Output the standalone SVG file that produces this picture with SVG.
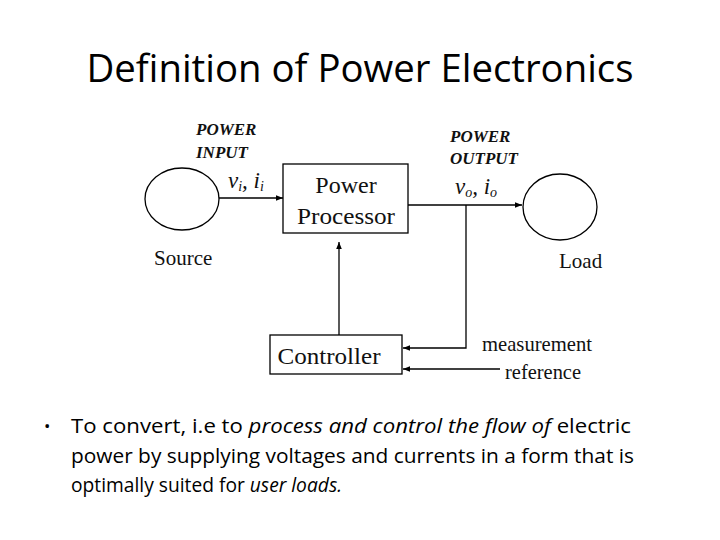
<svg xmlns="http://www.w3.org/2000/svg" width="720" height="540" viewBox="0 0 720 540">
<defs>
<marker id="ah" viewBox="0 0 10 10" refX="10" refY="5" markerWidth="7" markerHeight="7" markerUnits="userSpaceOnUse" orient="auto"><path d="M0,1 L10,5 L0,9 z" fill="#000"/></marker>
<style>
.ln{stroke:#000;stroke-width:1.3;fill:none}
.sh{stroke:#000;stroke-width:1.3;fill:#fff}
.tm{font-family:"Liberation Serif",serif;fill:#111}
.it{font-family:"Liberation Serif",serif;font-style:italic;fill:#111}
.bd{font-family:"Open Sans","Liberation Sans",sans-serif;fill:#000}
</style>
</defs>
<rect width="720" height="540" fill="#fff"/>
<text x="360" y="82" text-anchor="middle" class="bd" font-size="39" textLength="547" lengthAdjust="spacingAndGlyphs">Definition of Power Electronics</text>
<g id="connectors">
<line class="ln" x1="219" y1="198" x2="283" y2="198" marker-end="url(#ah)"/>
<line class="ln" x1="408" y1="205" x2="522" y2="205" marker-end="url(#ah)"/>
<polyline class="ln" points="466,205 466,348 403,348" marker-end="url(#ah)"/>
<line class="ln" x1="339" y1="335" x2="339" y2="242" marker-end="url(#ah)"/>
<line class="ln" x1="500" y1="369" x2="403" y2="369" marker-end="url(#ah)"/>
</g>
<g id="source">
<ellipse class="sh" cx="182" cy="199" rx="37" ry="31"/>
<text x="154" y="265" class="tm" font-size="21">Source</text>
<text x="196" y="135" class="it" font-size="17" font-weight="bold">POWER</text>
<text x="196" y="158" class="it" font-size="17" font-weight="bold">INPUT</text>
<text x="228" y="188" class="it" font-size="23">v<tspan font-size="14" dy="3">i</tspan><tspan dy="-3">, </tspan>i<tspan font-size="14" dy="3">i</tspan></text>
</g>
<g id="power-processor">
<rect class="sh" x="283" y="164" width="125" height="69"/>
<text x="346" y="193" text-anchor="middle" class="tm" font-size="24">Power</text>
<text x="346" y="224" text-anchor="middle" class="tm" font-size="24" textLength="98" lengthAdjust="spacingAndGlyphs">Processor</text>
</g>
<g id="load">
<ellipse class="sh" cx="560" cy="207" rx="37" ry="33"/>
<text x="559" y="268" class="tm" font-size="21">Load</text>
<text x="450" y="142" class="it" font-size="17" font-weight="bold">POWER</text>
<text x="450" y="164" class="it" font-size="17" font-weight="bold">OUTPUT</text>
<text x="455" y="194" class="it" font-size="23">v<tspan font-size="14" dy="3">o</tspan><tspan dy="-3">, </tspan>i<tspan font-size="14" dy="3">o</tspan></text>
</g>
<g id="controller">
<rect class="sh" x="270" y="335" width="132" height="39"/>
<text x="329" y="364" text-anchor="middle" class="tm" font-size="24" textLength="103" lengthAdjust="spacingAndGlyphs">Controller</text>
</g>
<g id="labels">
<text x="482" y="351" class="tm" font-size="21" textLength="110" lengthAdjust="spacingAndGlyphs">measurement</text>
<text x="505" y="379" class="tm" font-size="21" textLength="76" lengthAdjust="spacingAndGlyphs">reference</text>
</g>
<g id="bullet">
<text x="44" y="432" class="bd" font-size="17">•</text>
<text x="71" y="433" class="bd" font-size="20" textLength="560" lengthAdjust="spacingAndGlyphs">To convert, i.e to <tspan font-style="italic">process and control the flow of</tspan> electric</text>
<text x="71" y="463" class="bd" font-size="20" textLength="563" lengthAdjust="spacingAndGlyphs">power by supplying voltages and currents in a form that is</text>
<text x="71" y="492" class="bd" font-size="20" textLength="271" lengthAdjust="spacingAndGlyphs">optimally suited for <tspan font-style="italic">user loads.</tspan></text>
</g>
</svg>
